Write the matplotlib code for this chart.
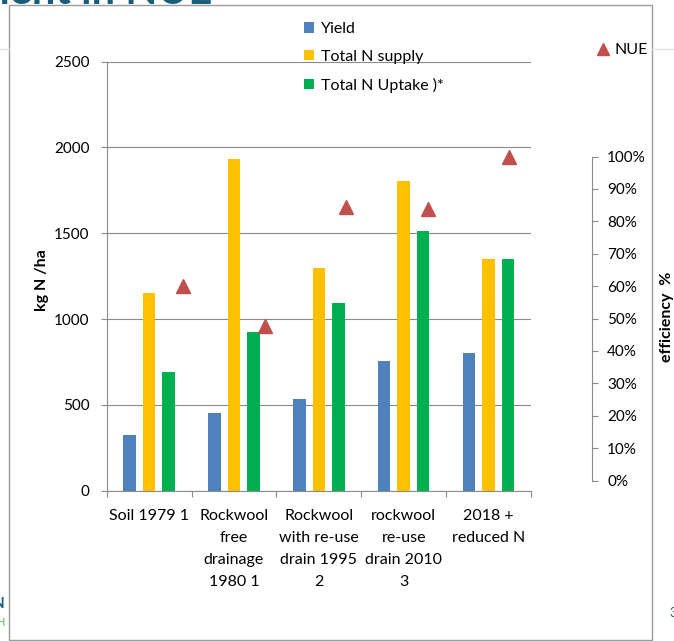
import matplotlib
matplotlib.use("Agg")
import matplotlib.pyplot as plt
import numpy as np
from matplotlib.patches import Rectangle
from matplotlib.lines import Line2D
from matplotlib.ticker import PercentFormatter

plt.rcParams['font.family'] = ['Lato', 'DejaVu Sans']

categories = ["Soil 1979 1", "Rockwool\nfree\ndrainage\n1980 1",
              "Rockwool\nwith re-use\ndrain 1995\n2", "rockwool\nre-use\ndrain 2010\n3",
              "2018 +\nreduced N"]
yield_n = [325, 450, 535, 755, 800]
n_supply = [1150, 1935, 1300, 1805, 1350]
n_uptake = [690, 925, 1095, 1515, 1350]
nue = [0.60, 0.477, 0.844, 0.839, 1.00]

series_names = ["Yield", "Total N supply", "Total N Uptake )*"]
colors = ["#4F81BD", "#FFC000", "#00B050"]
nue_color = "#C0504D"
grey = "#8A8A8A"
teal = "#1B5E7B"

W, H = 674, 641
fig = plt.figure(figsize=(W / 100, H / 100), dpi=100)

def px_rect(x0, y0, x1, y1):
    # pixel box (top-left origin) -> figure fraction [l, b, w, h]
    return [x0 / W, 1 - y1 / H, (x1 - x0) / W, (y1 - y0) / H]

# slide leftovers: frame, faint lines, clipped title and footer bits
fig.patches.append(Rectangle((9 / W, 1 - 640 / H), 643 / W, 635 / H, transform=fig.transFigure,
                             fill=False, edgecolor="#9C9C9C", linewidth=1.0))
fig.lines.append(Line2D([0, 9 / W], [1 - 49 / H] * 2, transform=fig.transFigure, color="#DCE3E8", lw=1))
fig.lines.append(Line2D([652 / W, 1], [1 - 49 / H] * 2, transform=fig.transFigure, color="#DCE3E8", lw=1))
fig.text(212 / W, 1 - 4 / H, "Improvement in NUE", ha="right", va="baseline",
         fontsize=30, fontweight="bold", color=teal)
fig.text(5 / W, 1 - 604 / H, "N", ha="right", va="center", fontsize=11, fontweight="bold", color=teal)
fig.text(5 / W, 1 - 623 / H, "H", ha="right", va="center", fontsize=8, color="#55C055")
fig.text(669 / W, 1 - 613 / H, "3", ha="left", va="center", fontsize=9, color=teal)

# main bar axes
ax = fig.add_axes(px_rect(106.7, 61.7, 531, 490.7))
x = np.arange(len(categories))
off = 0.23
bw = 0.147
for i, (vals, c, name) in enumerate(zip([yield_n, n_supply, n_uptake], colors, series_names)):
    ax.bar(x + (i - 1) * off, vals, bw, color=c, label=name, zorder=3)

ax.set_xlim(-0.5, 4.5)
ax.set_ylim(0, 2500)
ax.set_yticks(np.arange(0, 2501, 500))
ax.grid(axis="y", color=grey, linewidth=0.8, zorder=0)
for s in ["top", "right"]:
    ax.spines[s].set_visible(False)
for s in ["left", "bottom"]:
    ax.spines[s].set_color(grey)
    ax.spines[s].set_linewidth(0.8)
ax.tick_params(axis="y", direction="out", length=4.5, color=grey, width=0.8, labelsize=11, pad=8)
ax.set_xticks(x)
ax.set_xticklabels(categories, fontsize=11.5, linespacing=1.72, va="top")
ax.set_xticks(np.arange(-0.5, 5, 1), minor=True)
ax.tick_params(axis="x", which="major", length=0, pad=13.5)
ax.tick_params(axis="x", which="minor", direction="out", length=4, color=grey, width=0.8)
fig.text(42 / W, 1 - 280 / H, "kg N /ha", rotation=90, ha="center", va="center",
         fontsize=11.5, fontweight="bold")

ax.legend(loc="upper left", bbox_to_anchor=(304 / W, 1 - 22 / H), bbox_transform=fig.transFigure,
          frameon=False, fontsize=11.5, handlelength=0.65, handleheight=0.65, handletextpad=0.4,
          labelspacing=0.86, borderpad=0, borderaxespad=0)

# NUE on its own secondary axes
ax2 = fig.add_axes(px_rect(142.5, 156.5, 550, 480.5))
ax2.patch.set_visible(False)
ax2.plot(x, nue, linestyle="none", marker="^", markersize=10, color=nue_color,
         clip_on=False, label="NUE", zorder=4)
ax2.set_xlim(-0.5, 4.5)
ax2.set_ylim(0, 1)
for s in ["top", "left", "bottom"]:
    ax2.spines[s].set_visible(False)
ax2.spines["right"].set_position(("axes", (592 - 142.5) / (550 - 142.5)))
ax2.spines["right"].set_color(grey)
ax2.spines["right"].set_linewidth(0.8)
ax2.set_xticks([])
ax2.yaxis.tick_right()
ax2.set_yticks(np.arange(0, 1.01, 0.1))
ax2.yaxis.set_major_formatter(PercentFormatter(1.0, decimals=0))
ax2.tick_params(axis="y", direction="out", length=4, color=grey, width=0.8, labelsize=11, pad=7)
fig.text(667 / W, 1 - 317 / H, "efficiency  %", rotation=90, ha="center", va="center",
         fontsize=11.5, fontweight="bold")
ax2.legend(loc="upper left", bbox_to_anchor=(597 / W, 1 - 43 / H), bbox_transform=fig.transFigure,
           frameon=False, fontsize=11.5, handlelength=0.8, handletextpad=0.3, borderpad=0,
           borderaxespad=0, markerscale=0.8)

fig.savefig("out.png", dpi=100)
